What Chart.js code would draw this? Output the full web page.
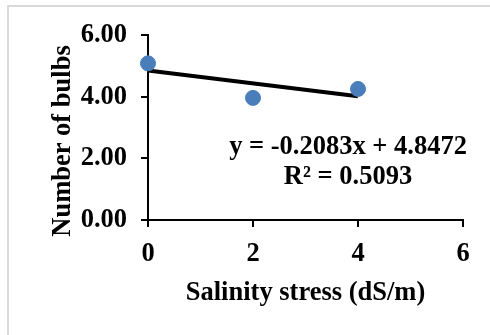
<!DOCTYPE html>
<html>
<head>
<meta charset="utf-8">
<script src="https://cdn.jsdelivr.net/npm/chart.js@4"></script>
<style>
  html,body{margin:0;padding:0;background:#fff;}
  #wrap{position:relative;width:490px;height:335px;overflow:hidden;}
  #frame{position:absolute;left:7px;top:5px;width:500px;height:350px;border-top:2px solid #d9d9d9;border-left:2px solid #d9d9d9;box-sizing:border-box;}
  canvas{position:absolute;left:0;top:0;}
</style>
</head>
<body>
<div id="wrap">
  <div id="frame"></div>
  <canvas id="c" width="490" height="335"></canvas>
</div>
<script>
// Salinity stress (dS/m) vs number of bulbs
const salinity = [0, 2, 4];
const bulbs = [5.08, 3.96, 4.25];
// linear trendline end points as shown on the chart
const trendX = [0, 4];
const trendY = [4.85, 4.01];
const eqLines = ['y = -0.2083x + 4.8472', 'R\u00b2 = 0.5093'];
const yTitle = 'Number of bulbs';

const FONT = 'Liberation Serif, Times New Roman, serif';
const FSIZE = 26.5;

// equation text + y title (drawn here so it sits where Excel put it)
const eqPlugin = {
  id:'eq',
  afterDatasetsDraw(chart){
    const {ctx, scales:{x, y}} = chart;
    ctx.save();
    ctx.font = 'bold ' + FSIZE + 'px ' + FONT;
    ctx.fillStyle = '#000';
    ctx.textAlign = 'center';
    ctx.textBaseline = 'middle';
    const cx = x.getPixelForValue(3.81);
    ctx.fillText(eqLines[0], cx, y.getPixelForValue(2.36));
    ctx.fillText(eqLines[1], cx, y.getPixelForValue(1.38));
    ctx.translate(63, 141);
    ctx.rotate(-Math.PI/2);
    ctx.fillText(yTitle, 0, 0);
    ctx.restore();
  }
};

const tickFont = {family:FONT, size:FSIZE, weight:'bold'};

new Chart(document.getElementById('c'), {
  type:'scatter',
  data:{
    datasets:[
      {
        label:'Number of bulbs',
        data: salinity.map((s,i)=>({x:s, y:bulbs[i]})),
        backgroundColor:'#4a7ebb',
        borderColor:'#4a7ebb',
        pointRadius:7.5,
        clip:false,
        order:1
      },
      {
        label:'Linear',
        type:'line',
        data: trendX.map((s,i)=>({x:s, y:trendY[i]})),
        borderColor:'#000',
        borderWidth:4,
        pointRadius:0,
        fill:false,
        clip:false,
        order:2
      }
    ]
  },
  options:{
    responsive:false,
    animation:false,
    layout:{padding:{left:40, right:27, top:35, bottom:26}},
    plugins:{legend:{display:false}, tooltip:{enabled:false}},
    scales:{
      x:{
        type:'linear', min:0, max:6,
        ticks:{stepSize:2, color:'#000', font:tickFont, padding:11},
        grid:{drawOnChartArea:false, drawTicks:true, tickLength:7, color:'#000', lineWidth:2},
        border:{color:'#000', width:2},
        title:{display:true, text:'Salinity stress (dS/m)', color:'#000', font:tickFont, padding:{top:4, bottom:0}},
        afterFit(s){ s.height = 335 - 220 - 26; }
      },
      y:{
        min:0, max:6,
        ticks:{stepSize:2, color:'#000', font:tickFont, padding:14, callback:v=>v.toFixed(2)},
        grid:{drawOnChartArea:false, drawTicks:true, tickLength:7, color:'#000', lineWidth:2},
        border:{color:'#000', width:2},
        title:{display:false},
        afterFit(s){ s.width = 148 - 40; }
      }
    }
  },
  plugins:[eqPlugin]
});
</script>
</body>
</html>
